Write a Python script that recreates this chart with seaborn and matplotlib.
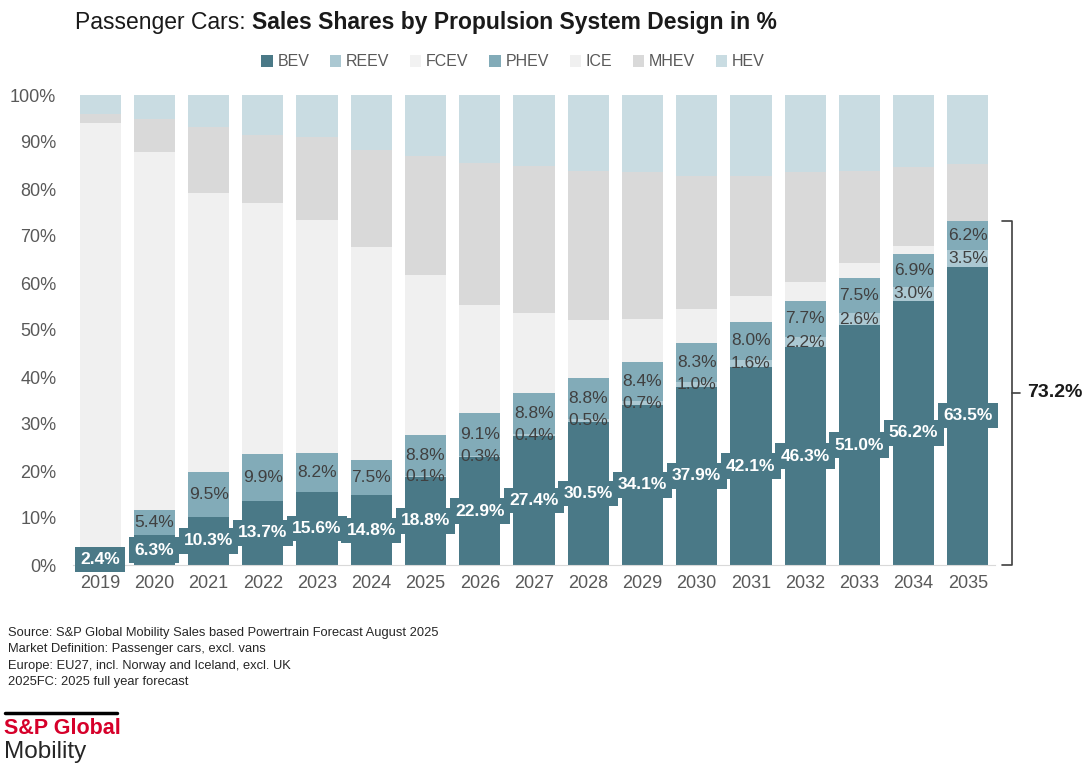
import pandas as pd
import matplotlib
matplotlib.use("Agg")
import matplotlib.pyplot as plt
from matplotlib.patches import Patch
import seaborn as sns

years = [str(y) for y in range(2019, 2036)]
bev = [2.4, 6.3, 10.3, 13.7, 15.6, 14.8, 18.8, 22.9, 27.4, 30.5, 34.1, 37.9, 42.1, 46.3, 51.0, 56.2, 63.5]
reev = [0, 0, 0, 0, 0, 0, 0.1, 0.3, 0.4, 0.5, 0.7, 1.0, 1.6, 2.2, 2.6, 3.0, 3.5]
fcev = [0, 0, 0, 0, 0, 0, 0, 0, 0, 0, 0, 0, 0, 0, 0, 0, 0]
phev = [0, 5.4, 9.5, 9.9, 8.2, 7.5, 8.8, 9.1, 8.8, 8.8, 8.4, 8.3, 8.0, 7.7, 7.5, 6.9, 6.2]
ice = [91.6, 76.1, 59.4, 53.4, 49.7, 45.4, 34.0, 23.0, 17.0, 12.3, 9.1, 7.3, 5.6, 4.0, 3.1, 1.8, 0.0]
mhev = [2.0, 7.2, 14.0, 14.5, 17.5, 20.6, 25.3, 30.2, 31.3, 31.7, 31.3, 28.3, 25.5, 23.4, 19.6, 16.8, 12.1]
hev = [4.0, 5.0, 6.8, 8.5, 9.0, 11.7, 13.0, 14.5, 15.1, 16.2, 16.4, 17.2, 17.2, 16.4, 16.2, 15.3, 14.7]

series = ['BEV', 'REEV', 'FCEV', 'PHEV', 'ICE', 'MHEV', 'HEV']
colors = {'BEV': '#4a7987', 'REEV': '#abc8d2', 'FCEV': '#f2f2f2', 'PHEV': '#82abb8',
          'ICE': '#f0f0f0', 'MHEV': '#d9d9d9', 'HEV': '#c9dce2'}


def main():
    sns.set_style("white")
    plt.rcParams['font.family'] = ['Liberation Sans', 'DejaVu Sans']

    df = pd.DataFrame({'year': years, 'BEV': bev, 'REEV': reev, 'FCEV': fcev, 'PHEV': phev,
                       'ICE': ice, 'MHEV': mhev, 'HEV': hev})
    cum = df[series].cumsum(axis=1)

    fig = plt.figure(figsize=(10.89, 7.64), dpi=100)
    ax = fig.add_axes([73 / 1089, 1 - 565 / 764, 922 / 1089, 470 / 764])

    # stacked bars: draw cumulative totals from the top down
    for s in reversed(series):
        sns.barplot(x=df['year'], y=cum[s], color=colors[s], width=0.76, saturation=1,
                    errorbar=None, linewidth=0, edgecolor='none', ax=ax)

    for i in range(len(years)):
        ax.text(i, bev[i] / 2, f"{bev[i]:.1f}%", ha='center', va='center', color='white',
                fontsize=12.5, fontweight='bold',
                bbox=dict(boxstyle='square,pad=0.3', fc=colors['BEV'], ec='none'))
        if reev[i] > 0:
            ax.text(i, bev[i] + reev[i] / 2, f"{reev[i]:.1f}%", ha='center', va='center',
                    color='#404040', fontsize=12.5)
        if phev[i] > 0:
            base = bev[i] + reev[i] + fcev[i]
            ax.text(i, base + phev[i] / 2, f"{phev[i]:.1f}%", ha='center', va='center',
                    color='#404040', fontsize=12.5)

    # bracket for electrified share in 2035
    top = bev[-1] + reev[-1] + phev[-1]
    bx = 16.81
    ax.plot([bx - 0.19, bx, bx, bx - 0.19], [top, top, 0, 0], color='#404040', lw=1.2,
            clip_on=False)
    ax.plot([bx, bx + 0.15], [top / 2, top / 2], color='#404040', lw=1.2, clip_on=False)
    ax.text(bx + 0.28, top / 2, f"{top:.1f}%", ha='left', va='center', fontsize=14,
            fontweight='bold', color='#1a1a1a')

    ax.set_xlim(-0.5, 16.5)
    ax.set_ylim(0, 100)
    ax.set_yticks(range(0, 101, 10))
    ax.set_yticklabels([f"{t}%" for t in range(0, 101, 10)])
    ax.set_xlabel('')
    ax.set_ylabel('')
    ax.tick_params(axis='both', length=0, labelsize=13, labelcolor='#595959')
    ax.tick_params(axis='y', pad=12)
    ax.tick_params(axis='x', pad=7)
    for side in ['top', 'right', 'left']:
        ax.spines[side].set_visible(False)
    ax.spines['bottom'].set_color('#d9d9d9')

    handles = [Patch(facecolor=colors[s], edgecolor='none', label=s) for s in series]
    leg = fig.legend(handles=handles, loc='center', bbox_to_anchor=(513 / 1089, 1 - 62 / 764),
                     ncol=7, frameon=False, fontsize=11.5, handlelength=0.7, handleheight=0.7,
                     handletextpad=0.3, columnspacing=1.3)
    for t in leg.get_texts():
        t.set_color('#595959')

    # title with normal + bold part
    renderer = fig.canvas.get_renderer()
    t1 = fig.text(75 / 1089, 1 - 22 / 764, "Passenger Cars: ", fontsize=16.5, va='center',
                  color='#1a1a1a')
    bb = t1.get_window_extent(renderer)
    fig.text(bb.x1 / fig.bbox.width, 1 - 22 / 764, "Sales Shares by Propulsion System Design in %",
             fontsize=16.5, fontweight='bold', va='center', color='#1a1a1a')

    notes = ["Source: S&P Global Mobility Sales based Powertrain Forecast August 2025",
             "Market Definition: Passenger cars, excl. vans",
             "Europe: EU27, incl. Norway and Iceland, excl. UK",
             "2025FC: 2025 full year forecast"]
    for k, line in enumerate(notes):
        fig.text(8 / 1089, 1 - (633 + k * 16.3) / 764, line, fontsize=9.3, va='center',
                 color='#262626')

    fig.add_artist(plt.Line2D([5 / 1089, 117 / 1089], [1 - 713 / 764, 1 - 713 / 764],
                              color='black', lw=2.5))
    fig.text(4 / 1089, 1 - 729 / 764, "S&P Global", fontsize=15.5, fontweight='bold',
             color='#d6002a', va='center')
    fig.text(4 / 1089, 1 - 752 / 764, "Mobility", fontsize=17.5, color='#262626', va='center')

    fig.savefig('out.png', dpi=100)


if __name__ == "__main__":
    main()
